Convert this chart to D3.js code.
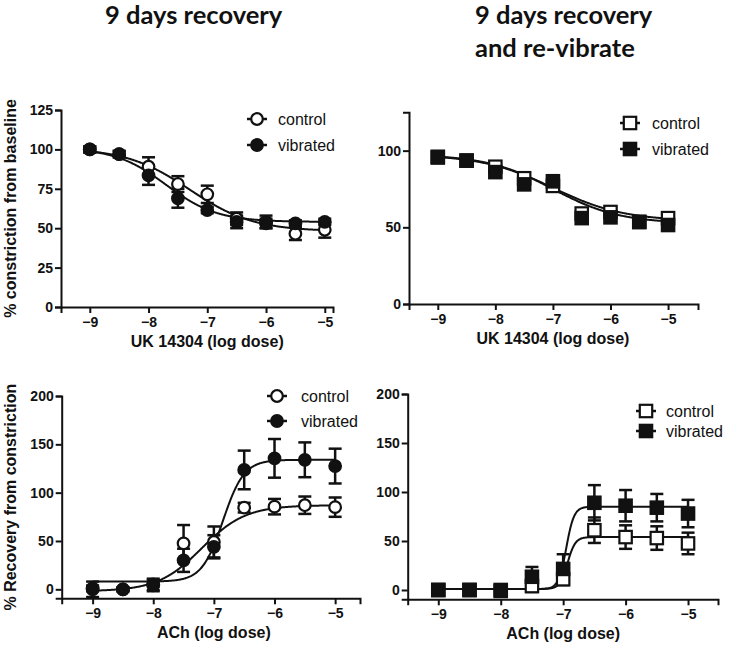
<!DOCTYPE html>
<html>
<head>
<meta charset="utf-8">
<script src="https://cdn.jsdelivr.net/npm/d3@7"></script>
<style>
  body { margin: 0; background: #fff; }
  svg text { fill: #111; }
</style>
</head>
<body>
<svg id="chart" width="729" height="656"></svg>
<script>
/* ===================================
 *  DATA
 * =================================== */
const doses = [-9, -8.5, -8, -7.5, -7, -6.5, -6, -5.5, -5];
const xTicks = [-9, -8, -7, -6, -5];
const seriesNames = ["control", "vibrated"];
const titles = [["9 days recovery"], ["9 days recovery", "and re-vibrate"]];

// UK 14304, 9 days recovery
const ukRecCtrl = [100, 97, 89, 78, 71.5, 56, 54, 46.5, 49];
const ukRecCtrlErr = [2, 2, 6, 5, 5.5, 4, 4, 4, 5];
const ukRecVib = [100, 97, 83.5, 69, 61.5, 54, 53, 53, 54];
const ukRecVibErr = [2, 2, 6, 6, 2, 4, 3, 2, 2];
const ukRecCtrlFit = [48, 101, -7.3, -0.8]; // bottom, top, logEC50, hill
const ukRecVibFit = [54, 101, -7.7, -1.0];

// UK 14304, recovery and re-vibrate
const ukRevCtrl = [96, 93.5, 89.5, 82, 77, 59, 60, 53.5, 56];
const ukRevCtrlErr = [2, 2, 2, 3, 3, 3, 3, 2, 2];
const ukRevVib = [95.5, 93.5, 86, 78, 80, 56, 56.5, 53.5, 51.5];
const ukRevVibErr = [2, 2, 3, 3, 4, 3, 2, 2, 2];
const ukRevCtrlFit = [54, 97.5, -7.0, -0.7];
const ukRevVibFit = [52.5, 97.5, -7.0, -0.75];

// ACh, 9 days recovery
const achRecCtrl = [1, 0, 4, 47.5, 49, 84.5, 85.5, 87, 85];
const achRecCtrlErr = [3, 2, 6, 19, 16, 5, 8, 9, 10];
const achRecVib = [0, 0, 5, 30, 44, 123.5, 135.5, 134, 127.5];
const achRecVibErr = [8, 2, 6, 12, 12, 20, 20, 18, 18];
const achRecCtrlFit = [-2, 87, -7.2, 1.2];
const achRecVibFit = [8, 134, -6.85, 2.5];

// ACh, recovery and re-vibrate
const achRevCtrl = [0, 0, 0, 4, 11, 61, 54, 53, 47.5];
const achRevCtrlErr = [2, 1, 2, 6, 6, 13, 12, 12, 11];
const achRevVib = [0, 0, -1, 13.5, 21.5, 89, 86, 84, 78];
const achRevVibErr = [2, 1, 2, 10, 15, 18, 16, 14, 14];
const achRevCtrlFit = [1, 54, -6.93, 7];
const achRevVibFit = [1, 85, -6.95, 7];

/* ===================================
 *  LAYOUT
 * =================================== */
const panels = [
  {
    left: 61, right: 333, bottom: 307, top: 110,
    xDomain: [-9.49, -4.86], yDomain: [0, 125], yTicks: [0, 25, 50, 75, 100, 125],
    xTitle: "UK 14304 (log dose)", yTitle: "% constriction from baseline",
    shape: "circle", legend: [257, 278, 119, 145],
    series: [
      { values: ukRecCtrl, err: ukRecCtrlErr, fit: ukRecCtrlFit, open: true },
      { values: ukRecVib, err: ukRecVibErr, fit: ukRecVibFit, open: false }
    ]
  },
  {
    left: 409, right: 698, bottom: 304, top: 112.3,
    xDomain: [-9.5, -4.48], yDomain: [0, 125], yTicks: [0, 50, 100],
    xTitle: "UK 14304 (log dose)", yTitle: null,
    shape: "square", legend: [630, 652, 123, 149],
    series: [
      { values: ukRevCtrl, err: ukRevCtrlErr, fit: ukRevCtrlFit, open: true },
      { values: ukRevVib, err: ukRevVibErr, fit: ukRevVibFit, open: false }
    ]
  },
  {
    left: 61.7, right: 360, bottom: 598.3, top: 396,
    xDomain: [-9.51, -4.59], yDomain: [-9.3, 200], yTicks: [0, 50, 100, 150, 200],
    xTitle: "ACh (log dose)", yTitle: "% Recovery from constriction",
    shape: "circle", legend: [277, 301, 396, 421],
    series: [
      { values: achRecCtrl, err: achRecCtrlErr, fit: achRecCtrlFit, open: true },
      { values: achRecVib, err: achRecVibErr, fit: achRecVibFit, open: false }
    ]
  },
  {
    left: 407.7, right: 718, bottom: 599.3, top: 394,
    xDomain: [-9.49, -4.52], yDomain: [-9.5, 200], yTicks: [0, 50, 100, 150, 200],
    xTitle: "ACh (log dose)", yTitle: null,
    shape: "square", legend: [646, 666, 411, 431],
    series: [
      { values: achRevCtrl, err: achRevCtrlErr, fit: achRevCtrlFit, open: true },
      { values: achRevVib, err: achRevVibErr, fit: achRevVibFit, open: false }
    ]
  }
];

const svg = d3.select("#chart");
const ink = "#111";
const sans = "Liberation Sans, Arial, sans-serif";

// four-parameter logistic, as fitted in the source figure
function logistic(x, p) {
  const [bottom, top, ec50, hill] = p;
  return bottom + (top - bottom) / (1 + Math.pow(10, (ec50 - x) * hill));
}

function drawMarker(g, shape, cx, cy, open) {
  if (shape === "circle") {
    g.append("circle")
      .attr("cx", cx).attr("cy", cy).attr("r", 5.8)
      .attr("fill", open ? "#fff" : ink)
      .attr("stroke", ink).attr("stroke-width", 2.2);
  } else {
    g.append("rect")
      .attr("x", cx - 6.2).attr("y", cy - 6.2)
      .attr("width", 12.4).attr("height", 12.4)
      .attr("fill", open ? "#fff" : ink)
      .attr("stroke", ink).attr("stroke-width", 2.2);
  }
}

/* ===================================
 *  TITLES
 * =================================== */
svg.append("text")
  .attr("x", 105).attr("y", 24)
  .style("font-family", "Lato").style("font-weight", 700).style("font-size", "25.5px")
  .text(titles[0][0]);

titles[1].forEach((t, i) => {
  svg.append("text")
    .attr("x", 475).attr("y", 24 + i * 33)
    .style("font-family", "Lato").style("font-weight", 700).style("font-size", "25.5px")
    .text(t);
});

/* ===================================
 *  PANELS
 * =================================== */
panels.forEach(p => {
  const x = d3.scaleLinear().domain(p.xDomain).range([p.left, p.right]);
  const y = d3.scaleLinear().domain(p.yDomain).range([p.bottom, p.top]);
  const g = svg.append("g");

  // axes
  const xAxis = g.append("g")
    .attr("transform", `translate(0,${p.bottom})`)
    .call(d3.axisBottom(x).tickValues(xTicks).tickSizeOuter(0).tickSize(6).tickPadding(4)
      .tickFormat(d => "\u2212" + Math.abs(d)));
  const yAxis = g.append("g")
    .attr("transform", `translate(${p.left},0)`)
    .call(d3.axisLeft(y).tickValues(p.yTicks).tickSizeOuter(0).tickSize(6).tickPadding(2));

  [xAxis, yAxis].forEach(a => {
    a.select(".domain").attr("stroke", ink).attr("stroke-width", 2);
    a.selectAll(".tick line").attr("stroke", ink).attr("stroke-width", 2);
    a.selectAll(".tick text")
      .style("font-family", sans)
      .style("font-weight", 700).style("font-size", "14px").attr("fill", ink);
  });

  // axis titles
  g.append("text")
    .attr("x", (x(-9) + x(-5)) / 2).attr("y", p.bottom + 40)
    .attr("text-anchor", "middle")
    .style("font-family", sans)
    .style("font-weight", 700).style("font-size", "16px")
    .text(p.xTitle);

  if (p.yTitle) {
    g.append("text")
      .attr("transform", `translate(16,${(p.top + p.bottom) / 2}) rotate(-90)`)
      .attr("text-anchor", "middle")
      .style("font-family", sans)
      .style("font-weight", 700).style("font-size", "16px")
      .text(p.yTitle);
  }

  // fitted curves
  const xs = d3.range(-9, -4.999, 0.01);
  p.series.forEach(s => {
    g.append("path")
      .datum(xs)
      .attr("fill", "none").attr("stroke", ink).attr("stroke-width", 2)
      .attr("d", d3.line().x(d => x(d)).y(d => y(logistic(d, s.fit))));
  });

  // error bars
  p.series.forEach(s => {
    doses.forEach((d, i) => {
      const cx = x(d);
      const y0 = y(s.values[i] - s.err[i]);
      const y1 = y(s.values[i] + s.err[i]);
      g.append("line").attr("x1", cx).attr("x2", cx).attr("y1", y0).attr("y2", y1)
        .attr("stroke", ink).attr("stroke-width", 2.5);
      [y0, y1].forEach(yy => {
        g.append("line").attr("x1", cx - 6.5).attr("x2", cx + 6.5).attr("y1", yy).attr("y2", yy)
          .attr("stroke", ink).attr("stroke-width", 2.5);
      });
    });
  });

  // markers
  p.series.forEach(s => {
    doses.forEach((d, i) => drawMarker(g, p.shape, x(d), y(s.values[i]), s.open));
  });

  // legend
  const [lx, tx, ly0, ly1] = p.legend;
  [ly0, ly1].forEach((ly, i) => {
    g.append("line").attr("x1", lx - 10).attr("x2", lx + 10).attr("y1", ly).attr("y2", ly)
      .attr("stroke", ink).attr("stroke-width", 2.5);
    drawMarker(g, p.shape, lx, ly, p.series[i].open);
    g.append("text")
      .attr("x", tx).attr("y", ly).attr("dy", "0.35em")
      .style("font-family", sans)
      .style("font-size", "16px")
      .text(seriesNames[i]);
  });
});
</script>
</body>
</html>
